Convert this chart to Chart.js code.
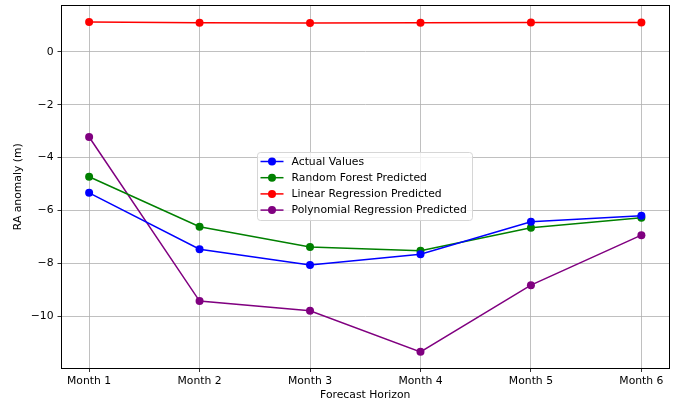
<!DOCTYPE html>
<html>
<head>
<meta charset="utf-8">
<script src="https://cdn.jsdelivr.net/npm/chart.js@4.4.1/dist/chart.umd.min.js"></script>
<style>
  html, body { margin: 0; padding: 0; background: #ffffff; }
  #wrap { width: 677px; height: 404px; }
</style>
</head>
<body>
<div id="wrap"><canvas id="c" width="677" height="404"></canvas></div>
<script>
// Forecast horizon categories
const months = ['Month 1', 'Month 2', 'Month 3', 'Month 4', 'Month 5', 'Month 6'];

// RA anomaly (m) per model
const actualValues = [-5.33, -7.46, -8.06, -7.65, -6.42, -6.20];
const randomForest = [-4.72, -6.61, -7.38, -7.52, -6.65, -6.27];
const linearRegression = [1.13, 1.10, 1.09, 1.10, 1.11, 1.11];
const polynomialRegression = [-3.22, -9.42, -9.79, -11.34, -8.82, -6.93];

// Y tick values
const yTicks = [0, -2, -4, -6, -8, -10];

const FONT = 'DejaVu Sans';
const FS = 10.8;

function pts(arr) { return arr.map((v, i) => ({ x: i, y: v })); }

function series(label, data, color) {
  return {
    label: label,
    data: pts(data),
    borderColor: color,
    backgroundColor: color,
    pointBackgroundColor: color,
    pointBorderColor: color,
    pointRadius: 4,
    pointBorderWidth: 0,
    borderWidth: 1.5,
    tension: 0,
    fill: false
  };
}

// Full frame around the plot area (matplotlib-style spines)
const framePlugin = {
  id: 'frame',
  afterDatasetsDraw(chart) {
    const a = chart.chartArea, ctx = chart.ctx;
    const l = Math.floor(a.left), t = Math.floor(a.top);
    const r = Math.floor(a.right), b = Math.floor(a.bottom);
    ctx.save();
    ctx.strokeStyle = '#000000';
    ctx.lineWidth = 1;
    ctx.strokeRect(l + 0.5, t + 0.5, r - l, b - t);
    ctx.restore();
  }
};

// Legend drawn inside the axes
const innerLegend = {
  id: 'innerLegend',
  afterDraw(chart, args, opts) {
    const ctx = chart.ctx;
    const x = opts.x, y = opts.y, w = opts.w, h = opts.h, r = 3;
    ctx.save();
    ctx.globalAlpha = 0.8;
    ctx.fillStyle = '#ffffff';
    ctx.beginPath();
    ctx.roundRect(x, y, w, h, r);
    ctx.fill();
    ctx.globalAlpha = 1;
    ctx.strokeStyle = '#d6d6d6';
    ctx.lineWidth = 1;
    ctx.stroke();
    ctx.font = FS + 'px "' + FONT + '"';
    ctx.textBaseline = 'middle';
    ctx.fillStyle = '#000000';
    chart.data.datasets.forEach((ds, i) => {
      const cy = y + 9 + i * 16.2;
      ctx.strokeStyle = ds.borderColor;
      ctx.lineWidth = 1.5;
      ctx.beginPath();
      ctx.moveTo(x + 3, cy);
      ctx.lineTo(x + 26, cy);
      ctx.stroke();
      ctx.fillStyle = ds.borderColor;
      ctx.beginPath();
      ctx.arc(x + 14.5, cy, 4, 0, Math.PI * 2);
      ctx.fill();
      ctx.fillStyle = '#000000';
      ctx.fillText(ds.label, x + 34, cy + 0.5);
    });
    ctx.restore();
  }
};

new Chart(document.getElementById('c'), {
  type: 'line',
  data: {
    datasets: [
      series('Actual Values', actualValues, '#0000ff'),
      series('Random Forest Predicted', randomForest, '#008000'),
      series('Linear Regression Predicted', linearRegression, '#ff0000'),
      series('Polynomial Regression Predicted', polynomialRegression, '#800080')
    ]
  },
  options: {
    responsive: false,
    animation: false,
    devicePixelRatio: 1,
    layout: { padding: { top: 5.5, right: 8, left: 0, bottom: 0 } },
    plugins: {
      legend: { display: false },
      tooltip: { enabled: false },
      innerLegend: { x: 257.5, y: 152.5, w: 215, h: 68 }
    },
    scales: {
      x: {
        type: 'linear',
        min: -0.25,
        max: 5.25,
        afterBuildTicks(scale) { scale.ticks = months.map((m, i) => ({ value: i })); },
        afterFit(scale) { scale.height = 36; scale.paddingLeft = 0; scale.paddingRight = 0; },
        ticks: {
          callback: (v) => months[v],
          color: '#000000',
          font: { family: FONT, size: FS },
          padding: 3,
          maxRotation: 0
        },
        grid: { color: '#b0b0b0', lineWidth: 0.8, tickLength: 4, tickColor: '#000000', tickWidth: 0.8 },
        border: { display: false },
        title: {
          display: true,
          text: 'Forecast Horizon',
          color: '#000000',
          font: { family: FONT, size: FS },
          padding: { top: 0, bottom: 2 }
        }
      },
      y: {
        type: 'linear',
        min: -11.95,
        max: 1.75,
        afterBuildTicks(scale) { scale.ticks = yTicks.map(v => ({ value: v })); },
        afterFit(scale) { scale.width = 61.5; scale.paddingTop = 0; scale.paddingBottom = 0; },
        ticks: {
          callback: (v) => String(v).replace('-', '\u2212'),
          color: '#000000',
          font: { family: FONT, size: FS },
          padding: 4
        },
        grid: { color: '#b0b0b0', lineWidth: 0.8, tickLength: 4, tickColor: '#000000', tickWidth: 0.8 },
        border: { display: false },
        title: {
          display: true,
          text: 'RA anomaly (m)',
          color: '#000000',
          font: { family: FONT, size: FS },
          padding: { top: 12, bottom: 0 }
        }
      }
    }
  },
  plugins: [framePlugin, innerLegend]
});
</script>
</body>
</html>
